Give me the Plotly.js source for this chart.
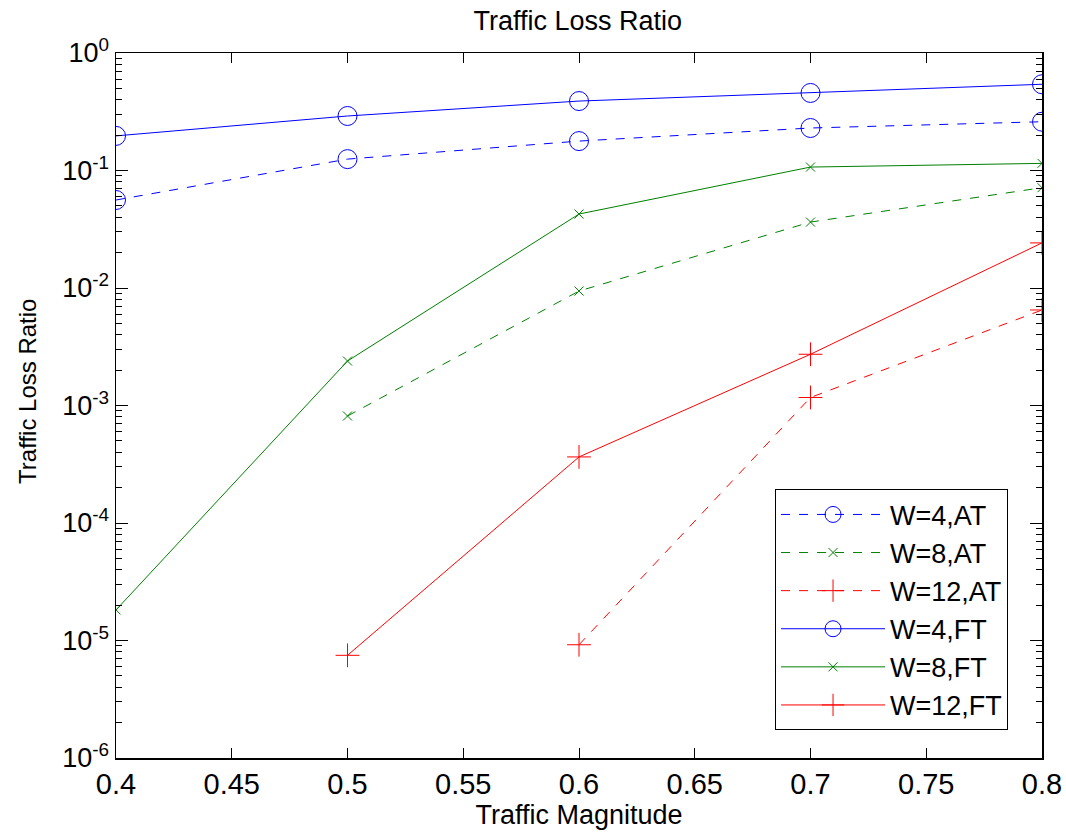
<!DOCTYPE html>
<html>
<head>
<meta charset="utf-8">
<script src="https://cdn.plot.ly/plotly-3.0.1.min.js"></script>
<style>html,body{margin:0;padding:0;background:#fff;}#chart{width:1066px;height:833px;}</style>
</head>
<body>
<div id="chart"></div>
<script>
const magnitude = [0.4, 0.5, 0.6, 0.7, 0.8];
const w4AT  = [0.0561, 0.125, 0.178, 0.230, 0.260];
const w8AT  = [null, 8.14e-4, 9.42e-3, 0.0364, 0.0714];
const w12AT = [null, null, 9.2e-6, 1.17e-3, 6.5e-3];
const w4FT  = [0.197, 0.291, 0.390, 0.457, 0.542];
const w8FT  = [1.82e-5, 2.39e-3, 0.0426, 0.107, 0.115];
const w12FT = [null, 7.48e-6, 3.65e-4, 2.73e-3, 0.0242];

const yTickVals = [1e-6, 1e-5, 1e-4, 1e-3, 1e-2, 1e-1, 1];
const yTickText = ['10<sup>-6</sup>','10<sup>-5</sup>','10<sup>-4</sup>','10<sup>-3</sup>','10<sup>-2</sup>','10<sup>-1</sup>','10<sup>0</sup>'];
const xTickVals = [0.4, 0.45, 0.5, 0.55, 0.6, 0.65, 0.7, 0.75, 0.8];
const xTickText = ['0.4','0.45','0.5','0.55','0.6','0.65','0.7','0.75','0.8'];

const minorVals = [];
for (let e = -6; e < 0; e++) for (let m = 2; m <= 9; m++) minorVals.push(m * Math.pow(10, e));

const BLUE = '#0000ff', GREEN = '#008000', RED = '#ff0000';
function tr(name, y, color, dash, symbol, size) {
  return {
    x: magnitude, y: y, name: name, type: 'scatter', mode: 'lines+markers',
    connectgaps: false,
    line: {color: color, width: 1, dash: dash},
    marker: {symbol: symbol, size: size, color: color, line: {color: color, width: 1}}
  };
}
const data = [
  tr('W=4,AT', w4AT, BLUE, 'dash', 'circle-open', 19),
  tr('W=8,AT', w8AT, GREEN, 'dash', 'x-thin-open', 9),
  tr('W=12,AT', w12AT, RED, 'dash', 'cross-thin-open', 17),
  tr('W=4,FT', w4FT, BLUE, 'solid', 'circle-open', 19),
  tr('W=8,FT', w8FT, GREEN, 'solid', 'x-thin-open', 9),
  tr('W=12,FT', w12FT, RED, 'solid', 'cross-thin-open', 17)
];

const layout = {
  width: 1066, height: 833,
  margin: {l: 116, r: 24, t: 53, b: 75},
  paper_bgcolor: '#fff', plot_bgcolor: '#fff',
  font: {family: 'Arial, "Liberation Sans", sans-serif', color: '#000'},
  title: {text: 'Traffic Loss Ratio', font: {size: 27, color: '#000'}, x: 0.542, xanchor: 'center', y: 0.975, yanchor: 'middle'},
  xaxis: {
    range: [0.4, 0.8], tickmode: 'array', tickvals: xTickVals, ticktext: xTickText,
    ticks: 'inside', ticklen: 10, tickwidth: 1, tickcolor: '#000',
    showline: true, linecolor: '#000', linewidth: 1.5, mirror: 'allticks',
    showgrid: false, zeroline: false,
    tickfont: {size: 29, color: '#000'},
    title: {text: 'Traffic Magnitude', font: {size: 27, color: '#000'}, standoff: 0}
  },
  yaxis: {
    type: 'log', range: [-6, 0], tickmode: 'array', tickvals: yTickVals, ticktext: yTickText,
    ticks: 'inside', ticklen: 12, tickwidth: 1, tickcolor: '#000',
    minor: {tickmode: 'array', tickvals: minorVals, ticks: 'inside', ticklen: 6, tickcolor: '#000', showgrid: false},
    showline: true, linecolor: '#000', linewidth: 1.5, mirror: 'allticks',
    showgrid: false, zeroline: false,
    tickfont: {size: 27, color: '#000'}
  },
  annotations: [{
    text: 'Traffic Loss Ratio', textangle: -90, showarrow: false,
    xref: 'paper', yref: 'paper', x: -0.0955, y: 0.52, xanchor: 'center', yanchor: 'middle',
    font: {size: 24, color: '#000'}
  }],
  showlegend: true,
  legend: {
    x: 0.7117, y: 0.381, xanchor: 'left', yanchor: 'top',
    bgcolor: '#fff', bordercolor: '#000', borderwidth: 1,
    font: {size: 27, color: '#000'}, traceorder: 'normal',
    itemwidth: 104
  }
};

Plotly.newPlot('chart', data, layout, {displayModeBar: false, staticPlot: true});
</script>
</body>
</html>
